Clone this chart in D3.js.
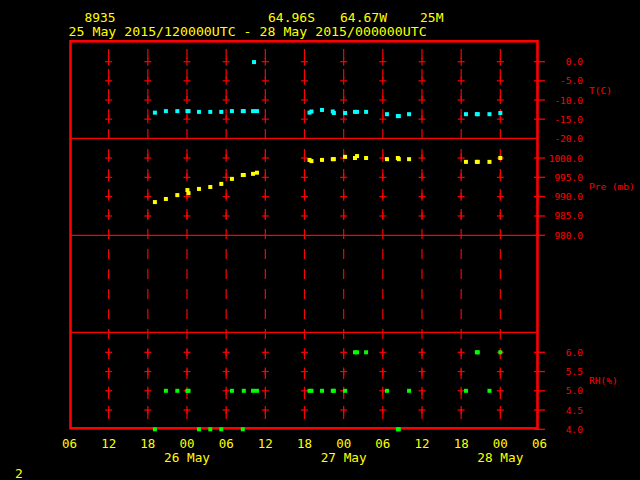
<!DOCTYPE html>
<html><head><meta charset="utf-8">
<script src="https://cdn.jsdelivr.net/npm/d3@7"></script>
<style>html,body{margin:0;padding:0;background:#000;overflow:hidden}</style>
</head><body>
<svg id="c" width="640" height="480"></svg>
<script>
// ---- data ----
const stationId = "8935";
const stationLat = "64.96S", stationLon = "64.67W", stationElev = "25M";
const periodText = "25 May 2015/120000UTC - 28 May 2015/000000UTC";
const obsTime = [
 "2015-05-25T19:05Z","2015-05-25T20:46Z","2015-05-25T22:31Z","2015-05-26T00:04Z","2015-05-26T00:14Z",
 "2015-05-26T01:50Z","2015-05-26T03:34Z","2015-05-26T05:15Z","2015-05-26T06:53Z","2015-05-26T08:33Z",
 "2015-05-26T08:42Z","2015-05-26T10:07Z","2015-05-26T10:16Z","2015-05-26T10:43Z","2015-05-26T18:46Z",
 "2015-05-26T19:04Z","2015-05-26T20:41Z","2015-05-26T22:20Z","2015-05-26T22:30Z","2015-05-27T00:13Z",
 "2015-05-27T01:44Z","2015-05-27T02:03Z","2015-05-27T03:26Z","2015-05-27T06:38Z","2015-05-27T08:18Z",
 "2015-05-27T08:27Z","2015-05-27T10:01Z","2015-05-27T18:44Z","2015-05-27T20:24Z","2015-05-27T20:33Z",
 "2015-05-27T22:20Z","2015-05-28T00:00Z"];
const tempC = [-13.3,-12.9,-12.9,-12.9,-12.9,-13.1,-13.1,-13.1,-12.9,-12.9,
 -12.9,-12.9,-0.1,-12.9,-13.3,-13.0,-12.6,-13.0,-13.4,-13.4,
 -13.1,-13.1,-13.1,-13.7,-14.2,-14.2,-13.7,-13.7,-13.7,-13.7,
 -13.7,-13.4];
const presMb = [988.6,989.4,990.4,991.7,990.9,992.0,992.5,993.3,994.6,995.6,
 995.6,995.9,null,996.2,999.5,999.2,999.5,999.7,999.7,1000.3,
 1000.0,1000.5,1000.0,999.7,1000.0,999.7,999.7,999.0,999.0,999.0,
 999.0,1000.0];
const rhPct = [4.0,5.0,5.0,5.0,5.0,4.0,4.0,4.0,5.0,4.0,
 5.0,5.0,null,5.0,5.0,5.0,5.0,5.0,5.0,5.0,
 6.0,6.0,6.0,5.0,4.0,4.0,5.0,5.0,6.0,6.0,
 5.0,6.0];
const tempTicks = [0,-5,-10,-15,-20];
const tempTickLabels = ["0.0","-5.0","-10.0","-15.0","-20.0"];
const presTicks = [1000,995,990,985,980];
const presTickLabels = ["1000.0","995.0","990.0","985.0","980.0"];
const rhTicks = [6,5.5,5,4.5,4];
const rhTickLabels = ["6.0","5.5","5.0","4.5","4.0"];
const hourTickLabels = ["06","12","18","00","06","12","18","00","06","12","18","00","06"];
const dayLabels = ["26 May","27 May","28 May"];
const pageNumber = "2";

// ---- layout ----
const svg = d3.select("#c");
const RED = "#ff0000", YEL = "#ffff00";
const mono = "'DejaVu Sans Mono', 'Liberation Mono', monospace";
const t0 = Date.UTC(2015,4,25,6), t1 = Date.UTC(2015,4,28,6);
const x = d3.scaleUtc().domain([t0, t1]).range([69.5, 539.5]);
const yT = d3.scaleLinear().domain([-20,0]).range([138.3,61.7]);
const yP = d3.scaleLinear().domain([980,1000]).range([235.3,158]);
const yR = d3.scaleLinear().domain([4,6]).range([429.3,352.3]);
const fTop = 41.3, fBot = 428.3, fLeft = 70.5, fRight = 537.5;
const dividers = [138.3, 235.3, 332.3];
const gridTimes = d3.range(1,12).map(k => new Date(t0 + k*6*3600e3));
const allTickTimes = d3.range(0,13).map(k => new Date(t0 + k*6*3600e3));

const g = svg.append("g");
// dividers
g.selectAll("line.div").data(dividers).join("line")
  .attr("x1", fLeft).attr("x2", fRight).attr("y1", d=>d).attr("y2", d=>d)
  .attr("stroke", RED).attr("stroke-width", 1.3);
// vertical dashed grid
g.selectAll("line.vg").data(gridTimes).join("line")
  .attr("x1", d=>x(d)).attr("x2", d=>x(d)).attr("y1", fTop).attr("y2", fBot)
  .attr("stroke", RED).attr("stroke-width", 1.2)
  .attr("stroke-dasharray", "10 10").attr("stroke-dashoffset", 12.3);
// crosses
const crossY = [].concat(tempTicks.slice(0,4).map(v=>yT(v)), presTicks.slice(0,4).map(v=>yP(v)), rhTicks.slice(0,4).map(v=>yR(v)));
gridTimes.forEach(t => {
  const cx = x(t);
  crossY.forEach(cy => {
    g.append("line").attr("x1", cx-3.5).attr("x2", cx+3.5).attr("y1", cy).attr("y2", cy)
      .attr("stroke", RED).attr("stroke-width", 1.2);
    g.append("line").attr("x1", cx).attr("x2", cx).attr("y1", cy-4).attr("y2", cy+4)
      .attr("stroke", RED).attr("stroke-width", 1.2);
  });
});
// right axis ticks
const rightTicks = [].concat(tempTicks.slice(0,4).map(v=>yT(v)), presTicks.map(v=>yP(v)), rhTicks.map(v=>yR(v)));
g.selectAll("line.rt").data(rightTicks).join("line")
  .attr("x1", 534).attr("x2", 545).attr("y1", d=>d).attr("y2", d=>d)
  .attr("stroke", RED).attr("stroke-width", 1.3);
// frame
g.append("rect").attr("x", fLeft).attr("y", fTop).attr("width", fRight-fLeft).attr("height", fBot-fTop)
  .attr("fill", "none").attr("stroke", RED).attr("stroke-width", 2.6);

// right labels
function rlabels(ticks, labels, sc) {
  g.append("g").selectAll("text").data(ticks).join("text")
    .attr("x", 583).attr("y", d=>sc(d)+3.5).attr("text-anchor","end")
    .attr("font-family", mono).attr("font-size", 9.5).attr("fill", RED)
    .text((d,i)=>labels[i]);
}
rlabels(tempTicks, tempTickLabels, yT);
rlabels(presTicks, presTickLabels, yP);
rlabels(rhTicks, rhTickLabels, yR);
[["T(C)",93.5],["Pre (mb)",190.2],["RH(%)",384.2]].forEach(([s,yy]) => {
  g.append("text").attr("x",589).attr("y",yy).attr("font-family",mono).attr("font-size",9.5)
   .attr("fill",RED).text(s);
});

// data markers
const obs = obsTime.map((s,i)=>({t:new Date(s), T:tempC[i], P:presMb[i], R:rhPct[i]}));
const S = 4;
function markers(key, sc, color) {
  g.append("g").selectAll("rect").data(obs.filter(d=>d[key]!=null)).join("rect")
    .attr("x", d=>x(d.t)-S/2).attr("y", d=>sc(d[key])-S/2).attr("width", S).attr("height", S)
    .attr("fill", color);
}
markers("T", yT, "#00ffff");
markers("P", yP, "#ffff00");
markers("R", yR, "#00ff00");

// bottom axis labels
g.append("g").selectAll("text").data(allTickTimes).join("text")
  .attr("x", d=>x(d)).attr("y", 447.5).attr("text-anchor","middle")
  .attr("font-family", mono).attr("font-size", 12).attr("fill", YEL)
  .attr("textLength", 15).attr("lengthAdjust","spacingAndGlyphs")
  .text((d,i)=>hourTickLabels[i]);
const dayTimes = [3,7,11].map(k => new Date(t0 + k*6*3600e3));
g.append("g").selectAll("text").data(dayTimes).join("text")
  .attr("x", d=>x(d)).attr("y", 461.8).attr("text-anchor","middle")
  .attr("font-family", mono).attr("font-size", 12).attr("fill", YEL)
  .attr("textLength", 46).attr("lengthAdjust","spacingAndGlyphs")
  .text((d,i)=>dayLabels[i]);
g.append("text").attr("x",19).attr("y",478).attr("text-anchor","middle")
  .attr("font-family", mono).attr("font-size", 13).attr("fill", YEL).text(pageNumber);

// header
const hdr = [[stationId,84.5,31],[stationLat,268,47],[stationLon,340,47],[stationElev,420,23.5]];
hdr.forEach(([s,xx,w]) => {
  g.append("text").attr("x",xx).attr("y",22).attr("font-family",mono).attr("font-size",12)
   .attr("fill",YEL).attr("textLength",w).attr("lengthAdjust","spacingAndGlyphs").text(s);
});
g.append("text").attr("x",68.6).attr("y",36).attr("font-family",mono).attr("font-size",12)
  .attr("fill",YEL).attr("textLength",358).attr("lengthAdjust","spacingAndGlyphs").text(periodText);
</script>
</body></html>
